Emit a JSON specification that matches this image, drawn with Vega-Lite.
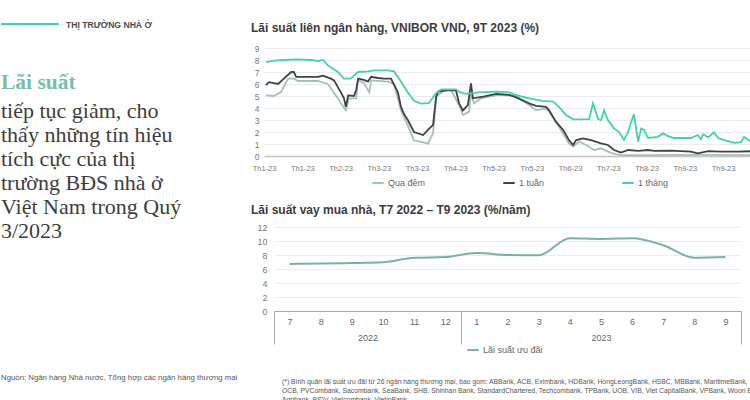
{
  "$schema": "https://vega.github.io/schema/vega-lite/v6.json",
  "padding": 0,
  "background": "white",
  "config": {"view": {"stroke": null}, "font": "Liberation Sans"},
  "bounds": "flush",
  "align": "each",
  "columns": 2,
  "spacing": {"row": 0, "column": 18},
  "resolve": {"scale": {"color": "independent"}, "legend": {"color": "independent"}},
  "concat": [
    {
      "width": 58, "height": 24,
      "data": {"values": [{"k": "header"}]},
      "mark": {"type": "rule", "color": "#3fd1a0", "strokeWidth": 2},
      "encoding": {"y": {"datum": 0, "type": "quantitative", "scale": {"domain": [0, 1]}, "axis": null}},
      "title": {"text": "THỊ TRƯỜNG NHÀ Ở", "orient": "bottom", "anchor": "start", "frame": "group", "dx": 65, "baseline": "middle", "offset": 0, "fontSize": 8.6, "fontWeight": "bold", "color": "#4b4b4b"}
    },
    {"width": 487, "height": 24, "data": {"values": []}, "mark": "point"},
    {"width": 245, "height": 24, "data": {"values": []}, "mark": "point"},
    {"width": 487, "height": 24, "data": {"values": []}, "mark": "point"},
    {"width": 245, "height": 108, "data": {"values": []}, "mark": "point"},
    {
      "width": 487, "height": 108,
      "title": {"text": "Lãi suất liên ngân hàng, VNIBOR VND, 9T 2023 (%)", "anchor": "start", "frame": "group", "dx": -13, "offset": 9, "fontSize": 12, "fontWeight": "bold", "color": "#3c3c3c"},
      "data": {"values": [
        {"d":0.5,"s":"Qua đêm","v":5.05},{"d":2.6,"s":"Qua đêm","v":5.0},{"d":4.4,"s":"Qua đêm","v":5.3},{"d":6.3,"s":"Qua đêm","v":6.45},{"d":7.8,"s":"Qua đêm","v":6.45},{"d":8.9,"s":"Qua đêm","v":6.25},{"d":14.1,"s":"Qua đêm","v":6.25},{"d":16.7,"s":"Qua đêm","v":6.0},{"d":19.3,"s":"Qua đêm","v":4.8},{"d":21.4,"s":"Qua đêm","v":3.8},{"d":22.2,"s":"Qua đêm","v":4.8},{"d":24.1,"s":"Qua đêm","v":4.8},{"d":24.6,"s":"Qua đêm","v":6.3},{"d":26.1,"s":"Qua đêm","v":6.1},{"d":27.5,"s":"Qua đêm","v":5.3},{"d":28.0,"s":"Qua đêm","v":6.3},{"d":32.4,"s":"Qua đêm","v":6.2},{"d":34.0,"s":"Qua đêm","v":6.0},{"d":35.8,"s":"Qua đêm","v":3.8},{"d":37.6,"s":"Qua đêm","v":2.55},{"d":39.2,"s":"Qua đêm","v":1.3},{"d":41.0,"s":"Qua đêm","v":1.17},{"d":42.9,"s":"Qua đêm","v":1.03},{"d":44.2,"s":"Qua đêm","v":1.92},{"d":45.0,"s":"Qua đêm","v":4.94},{"d":47.1,"s":"Qua đêm","v":5.5},{"d":48.9,"s":"Qua đêm","v":5.5},{"d":51.0,"s":"Qua đêm","v":4.25},{"d":52.0,"s":"Qua đêm","v":3.42},{"d":53.6,"s":"Qua đêm","v":3.7},{"d":54.1,"s":"Qua đêm","v":5.2},{"d":54.9,"s":"Qua đêm","v":4.39},{"d":56.7,"s":"Qua đêm","v":4.8},{"d":61.2,"s":"Qua đêm","v":5.1},{"d":65.9,"s":"Qua đêm","v":5.0},{"d":69.3,"s":"Qua đêm","v":4.25},{"d":71.1,"s":"Qua đêm","v":3.83},{"d":73.7,"s":"Qua đêm","v":3.95},{"d":74.5,"s":"Qua đêm","v":3.7},{"d":77.1,"s":"Qua đêm","v":2.44},{"d":79.7,"s":"Qua đêm","v":1.06},{"d":80.8,"s":"Qua đêm","v":0.78},{"d":82.4,"s":"Qua đêm","v":1.2},{"d":84.2,"s":"Qua đêm","v":0.92},{"d":86.3,"s":"Qua đêm","v":0.5},{"d":88.1,"s":"Qua đêm","v":0.64},{"d":89.9,"s":"Qua đêm","v":0.36},{"d":91.5,"s":"Qua đêm","v":0.17},{"d":93.3,"s":"Qua đêm","v":0.08},{"d":101.2,"s":"Qua đêm","v":0.08},{"d":114.2,"s":"Qua đêm","v":0.1},{"d":127.3,"s":"Qua đêm","v":0.08},
        {"d":0.5,"s":"1 tuần","v":5.9},{"d":1.3,"s":"1 tuần","v":6.15},{"d":3.7,"s":"1 tuần","v":6.0},{"d":5.2,"s":"1 tuần","v":6.45},{"d":7.1,"s":"1 tuần","v":7.0},{"d":7.8,"s":"1 tuần","v":7.0},{"d":8.4,"s":"1 tuần","v":6.6},{"d":14.1,"s":"1 tuần","v":6.6},{"d":15.4,"s":"1 tuần","v":6.7},{"d":17.5,"s":"1 tuần","v":6.45},{"d":18.3,"s":"1 tuần","v":6.3},{"d":20.1,"s":"1 tuần","v":5.3},{"d":20.9,"s":"1 tuần","v":4.8},{"d":21.4,"s":"1 tuần","v":4.1},{"d":22.0,"s":"1 tuần","v":5.05},{"d":23.5,"s":"1 tuần","v":5.0},{"d":24.1,"s":"1 tuần","v":5.5},{"d":24.6,"s":"1 tuần","v":6.45},{"d":26.1,"s":"1 tuần","v":6.35},{"d":27.2,"s":"1 tuần","v":6.2},{"d":28.0,"s":"1 tuần","v":6.6},{"d":29.8,"s":"1 tuần","v":6.5},{"d":31.4,"s":"1 tuần","v":6.45},{"d":33.2,"s":"1 tuần","v":6.45},{"d":35.0,"s":"1 tuần","v":5.3},{"d":35.8,"s":"1 tuần","v":4.1},{"d":36.6,"s":"1 tuần","v":3.5},{"d":37.6,"s":"1 tuần","v":3.0},{"d":39.2,"s":"1 tuần","v":2.0},{"d":41.6,"s":"1 tuần","v":1.75},{"d":42.9,"s":"1 tuần","v":2.2},{"d":44.2,"s":"1 tuần","v":2.6},{"d":45.0,"s":"1 tuần","v":4.94},{"d":45.5,"s":"1 tuần","v":5.36},{"d":48.4,"s":"1 tuần","v":5.5},{"d":50.2,"s":"1 tuần","v":5.45},{"d":51.0,"s":"1 tuần","v":4.39},{"d":52.0,"s":"1 tuần","v":3.8},{"d":53.3,"s":"1 tuần","v":4.25},{"d":54.1,"s":"1 tuần","v":6.06},{"d":54.6,"s":"1 tuần","v":4.81},{"d":57.3,"s":"1 tuần","v":4.94},{"d":60.7,"s":"1 tuần","v":5.17},{"d":64.1,"s":"1 tuần","v":5.1},{"d":65.9,"s":"1 tuần","v":4.89},{"d":69.3,"s":"1 tuần","v":4.39},{"d":71.1,"s":"1 tuần","v":4.17},{"d":73.7,"s":"1 tuần","v":4.1},{"d":74.5,"s":"1 tuần","v":3.83},{"d":76.3,"s":"1 tuần","v":2.86},{"d":78.2,"s":"1 tuần","v":2.17},{"d":79.7,"s":"1 tuần","v":1.33},{"d":80.8,"s":"1 tuần","v":0.92},{"d":81.6,"s":"1 tuần","v":1.33},{"d":83.4,"s":"1 tuần","v":1.47},{"d":85.5,"s":"1 tuần","v":1.33},{"d":88.1,"s":"1 tuần","v":1.05},{"d":89.9,"s":"1 tuần","v":0.92},{"d":91.5,"s":"1 tuần","v":0.5},{"d":93.3,"s":"1 tuần","v":0.28},{"d":95.2,"s":"1 tuần","v":0.5},{"d":97.8,"s":"1 tuần","v":0.42},{"d":100.4,"s":"1 tuần","v":0.5},{"d":102.0,"s":"1 tuần","v":0.42},{"d":106.4,"s":"1 tuần","v":0.45},{"d":111.6,"s":"1 tuần","v":0.36},{"d":113.4,"s":"1 tuần","v":0.22},{"d":116.1,"s":"1 tuần","v":0.4},{"d":119.5,"s":"1 tuần","v":0.36},{"d":123.9,"s":"1 tuần","v":0.36},{"d":127.3,"s":"1 tuần","v":0.4},
        {"d":0.5,"s":"1 tháng","v":7.83},{"d":2.6,"s":"1 tháng","v":7.95},{"d":5.2,"s":"1 tháng","v":8.0},{"d":8.9,"s":"1 tháng","v":8.05},{"d":12.3,"s":"1 tháng","v":8.0},{"d":14.1,"s":"1 tháng","v":7.9},{"d":15.4,"s":"1 tháng","v":8.0},{"d":16.7,"s":"1 tháng","v":7.55},{"d":19.3,"s":"1 tháng","v":7.0},{"d":20.9,"s":"1 tháng","v":6.45},{"d":22.7,"s":"1 tháng","v":6.45},{"d":24.6,"s":"1 tháng","v":7.0},{"d":27.2,"s":"1 tháng","v":7.05},{"d":28.8,"s":"1 tháng","v":7.14},{"d":32.4,"s":"1 tháng","v":7.14},{"d":34.0,"s":"1 tháng","v":7.05},{"d":35.8,"s":"1 tháng","v":6.2},{"d":37.6,"s":"1 tháng","v":5.3},{"d":39.2,"s":"1 tháng","v":4.6},{"d":41.0,"s":"1 tháng","v":4.36},{"d":43.1,"s":"1 tháng","v":4.4},{"d":45.0,"s":"1 tháng","v":5.25},{"d":46.3,"s":"1 tháng","v":5.55},{"d":48.4,"s":"1 tháng","v":5.56},{"d":50.2,"s":"1 tháng","v":5.56},{"d":51.0,"s":"1 tháng","v":5.36},{"d":52.3,"s":"1 tháng","v":5.2},{"d":54.1,"s":"1 tháng","v":5.2},{"d":55.9,"s":"1 tháng","v":5.3},{"d":60.7,"s":"1 tháng","v":5.36},{"d":64.1,"s":"1 tháng","v":5.3},{"d":65.9,"s":"1 tháng","v":5.08},{"d":69.3,"s":"1 tháng","v":4.8},{"d":72.9,"s":"1 tháng","v":4.6},{"d":75.6,"s":"1 tháng","v":4.53},{"d":77.1,"s":"1 tháng","v":4.1},{"d":78.95,"s":"1 tháng","v":3.42},{"d":80.8,"s":"1 tháng","v":3.06},{"d":85.0,"s":"1 tháng","v":3.08},{"d":86.0,"s":"1 tháng","v":4.4},{"d":87.3,"s":"1 tháng","v":3.1},{"d":88.1,"s":"1 tháng","v":3.0},{"d":88.9,"s":"1 tháng","v":3.8},{"d":89.9,"s":"1 tháng","v":3.0},{"d":91.5,"s":"1 tháng","v":2.3},{"d":92.8,"s":"1 tháng","v":2.0},{"d":94.1,"s":"1 tháng","v":1.33},{"d":95.2,"s":"1 tháng","v":2.0},{"d":95.9,"s":"1 tháng","v":2.75},{"d":96.7,"s":"1 tháng","v":3.5},{"d":97.8,"s":"1 tháng","v":1.2},{"d":98.6,"s":"1 tháng","v":2.3},{"d":99.3,"s":"1 tháng","v":2.2},{"d":100.4,"s":"1 tháng","v":1.5},{"d":103.0,"s":"1 tháng","v":1.6},{"d":104.3,"s":"1 tháng","v":1.9},{"d":105.6,"s":"1 tháng","v":1.65},{"d":107.2,"s":"1 tháng","v":1.5},{"d":111.6,"s":"1 tháng","v":1.5},{"d":113.4,"s":"1 tháng","v":1.75},{"d":114.2,"s":"1 tháng","v":1.4},{"d":114.8,"s":"1 tháng","v":1.8},{"d":116.1,"s":"1 tháng","v":1.55},{"d":117.6,"s":"1 tháng","v":1.97},{"d":118.7,"s":"1 tháng","v":1.5},{"d":120.3,"s":"1 tháng","v":1.33},{"d":122.9,"s":"1 tháng","v":1.1},{"d":124.7,"s":"1 tháng","v":1.15},{"d":125.5,"s":"1 tháng","v":1.6},{"d":126.5,"s":"1 tháng","v":1.35},{"d":127.3,"s":"1 tháng","v":1.2}
      ]},
      "mark": {"type": "line", "strokeWidth": 1.8, "clip": true},
      "encoding": {
        "x": {"field": "d", "type": "quantitative", "scale": {"domain": [0, 127.3], "nice": false, "zero": false},
              "axis": {"title": null, "values": [0,10,20,30,40,50,60,70,80,90,100,110,120], "labelExpr": "['Th1-23','Th1-23','Th2-23','Th3-23','Th3-23','Th4-23','Th5-23','Th5-23','Th6-23','Th7-23','Th8-23','Th9-23','Th9-23'][round(datum.value/10)]", "grid": false, "ticks": false, "domain": true, "domainColor": "#c4c4c4", "domainWidth": 1.5, "labelColor": "#777777", "labelFontSize": 7.5, "labelPadding": 8, "labelFlush": false, "labelOverlap": false}},
        "y": {"field": "v", "type": "quantitative", "scale": {"domain": [0, 9], "nice": false},
              "axis": {"title": null, "values": [0,1,2,3,4,5,6,7,8,9], "grid": true, "gridColor": "#ececec", "domain": false, "ticks": false, "labelColor": "#777777", "labelFontSize": 8.5, "labelPadding": 5}},
        "color": {"field": "s", "type": "nominal", "scale": {"domain": ["Qua đêm", "1 tuần", "1 tháng"], "range": ["#a7c0b6", "#3e4441", "#45d39f"]},
                  "legend": {"title": null, "orient": "none", "legendX": 107, "legendY": 128, "direction": "horizontal", "symbolType": "stroke", "symbolStrokeWidth": 2, "symbolSize": 130, "labelFontSize": 9, "labelColor": "#666666", "columnPadding": 73, "labelOffset": 3}}
      }
    },
    {"width": 245, "height": 71, "data": {"values": []}, "mark": "point"},
    {"width": 487, "height": 71, "data": {"values": []}, "mark": "point"},
    {
      "width": 245, "height": 84,
      "data": {"values": []}, "mark": "point",
      "title": {
        "text": "Lãi suất",
        "subtitle": ["tiếp tục giảm, cho", "thấy những tín hiệu", "tích cực của thị", "trường BĐS nhà ở", "Việt Nam trong Quý", "3/2023"],
        "orient": "top", "anchor": "start", "frame": "group", "offset": -15,
        "font": "Liberation Serif", "fontSize": 21.5, "fontWeight": "bold", "color": "#78bfa6",
        "subtitleFont": "Liberation Serif", "subtitleFontSize": 22, "subtitleColor": "#3d3d3d", "subtitleLineHeight": 24, "subtitlePadding": 8
      }
    },
    {
      "width": 477, "height": 84,
      "title": {"text": "Lãi suất vay mua nhà, T7 2022 – T9 2023 (%/năm)", "anchor": "start", "frame": "group", "dx": -13, "offset": 6, "fontSize": 12, "fontWeight": "bold", "color": "#3c3c3c"},
      "layer": [
        {
          "data": {"values": [
            {"ym":"2022-07","s":"Lãi suất ưu đãi","v":6.7},{"ym":"2022-08","s":"Lãi suất ưu đãi","v":6.8},{"ym":"2022-09","s":"Lãi suất ưu đãi","v":6.85},{"ym":"2022-10","s":"Lãi suất ưu đãi","v":6.95},{"ym":"2022-11","s":"Lãi suất ưu đãi","v":7.6},{"ym":"2022-12","s":"Lãi suất ưu đãi","v":7.7},{"ym":"2023-01","s":"Lãi suất ưu đãi","v":8.3},{"ym":"2023-02","s":"Lãi suất ưu đãi","v":8.0},{"ym":"2023-03","s":"Lãi suất ưu đãi","v":7.95},{"ym":"2023-04","s":"Lãi suất ưu đãi","v":10.4},{"ym":"2023-05","s":"Lãi suất ưu đãi","v":10.3},{"ym":"2023-06","s":"Lãi suất ưu đãi","v":10.4},{"ym":"2023-07","s":"Lãi suất ưu đãi","v":9.4},{"ym":"2023-08","s":"Lãi suất ưu đãi","v":7.6},{"ym":"2023-09","s":"Lãi suất ưu đãi","v":7.7}
          ]},
          "mark": {"type": "line", "interpolate": "monotone", "strokeWidth": 2},
          "encoding": {
            "x": {"field": "ym", "type": "ordinal", "scale": {"paddingInner": 0, "paddingOuter": 0, "range": [10, 477]},
                  "axis": {"title": null, "orient": "bottom", "labelExpr": "'' + toNumber(slice(datum.value, 5))", "labelAngle": 0, "grid": false, "ticks": false, "domain": true, "domainColor": "#a9a9a9", "labelColor": "#666666", "labelFontSize": 9, "labelPadding": 6}},
            "y": {"field": "v", "type": "quantitative", "scale": {"domain": [0, 12], "nice": false},
                  "axis": {"title": null, "offset": -10, "values": [0,2,4,6,8,10,12], "grid": true, "gridColor": "#ececec", "domain": false, "ticks": false, "labelColor": "#777777", "labelFontSize": 9, "labelPadding": 7}},
            "color": {"field": "s", "type": "nominal", "scale": {"range": ["#78b2a2"]},
                      "legend": {"title": null, "orient": "none", "legendX": 202, "legendY": 116, "direction": "horizontal", "symbolType": "stroke", "symbolStrokeWidth": 2, "symbolSize": 130, "labelFontSize": 9, "labelColor": "#666666", "labelOffset": 3}}
          }
        },
        {
          "data": {"values": []},
          "mark": "point",
          "encoding": {
            "x": {"field": "i", "type": "quantitative", "scale": {"domain": [0, 15], "nice": false, "zero": false, "range": [10, 477]},
                  "axis": {"title": null, "orient": "bottom", "values": [0, 3, 6, 10.5, 15], "labelExpr": "datum.value == 3 ? '2022' : datum.value == 10.5 ? '2023' : ''", "grid": false, "domain": false, "ticks": true, "tickSize": 33, "tickColor": "#a9a9a9", "tickOpacity": {"condition": {"test": "datum.value == 3 || datum.value == 10.5", "value": 0}, "value": 1}, "labelPadding": -11, "labelFontSize": 9, "labelColor": "#666666", "labelFlush": false, "labelOverlap": false}}
          }
        }
      ],
      "resolve": {"scale": {"x": "independent"}, "axis": {"x": "independent"}}
    },
    {"width": 245, "height": 66.5, "data": {"values": []}, "mark": "point"},
    {"width": 487, "height": 66.5, "data": {"values": []}, "mark": "point"},
    {
      "width": 245, "height": 1,
      "data": {"values": []}, "mark": "point",
      "title": {"text": "Nguồn: Ngân hàng Nhà nước, Tổng hợp các ngân hàng thương mại", "orient": "top", "anchor": "start", "frame": "group", "offset": -3.5, "fontSize": 7.8, "fontWeight": "normal", "color": "#555555"}
    },
    {
      "width": 487, "height": 1,
      "data": {"values": []}, "mark": "point",
      "title": {
        "text": ["(*) Bình quân lãi suất ưu đãi từ 26 ngân hàng thương mại, bao gồm: ABBank, ACB, Eximbank, HDBank, HongLeongBank, HSBC, MBBank, MaritimeBank,", "OCB, PVCombank, Sacombank, SeaBank, SHB, Shinhan Bank, StandardChartered, Techcombank, TPBank, UOB, VIB, Viet CapitalBank, VPBank, Woori Bank,", "Agribank, BIDV, Vietcombank, VietinBank."],
        "orient": "bottom", "anchor": "start", "frame": "group", "dx": 18, "offset": 0, "fontSize": 6.8, "fontWeight": "normal", "color": "#555555", "lineHeight": 9
      }
    }
  ]
}
